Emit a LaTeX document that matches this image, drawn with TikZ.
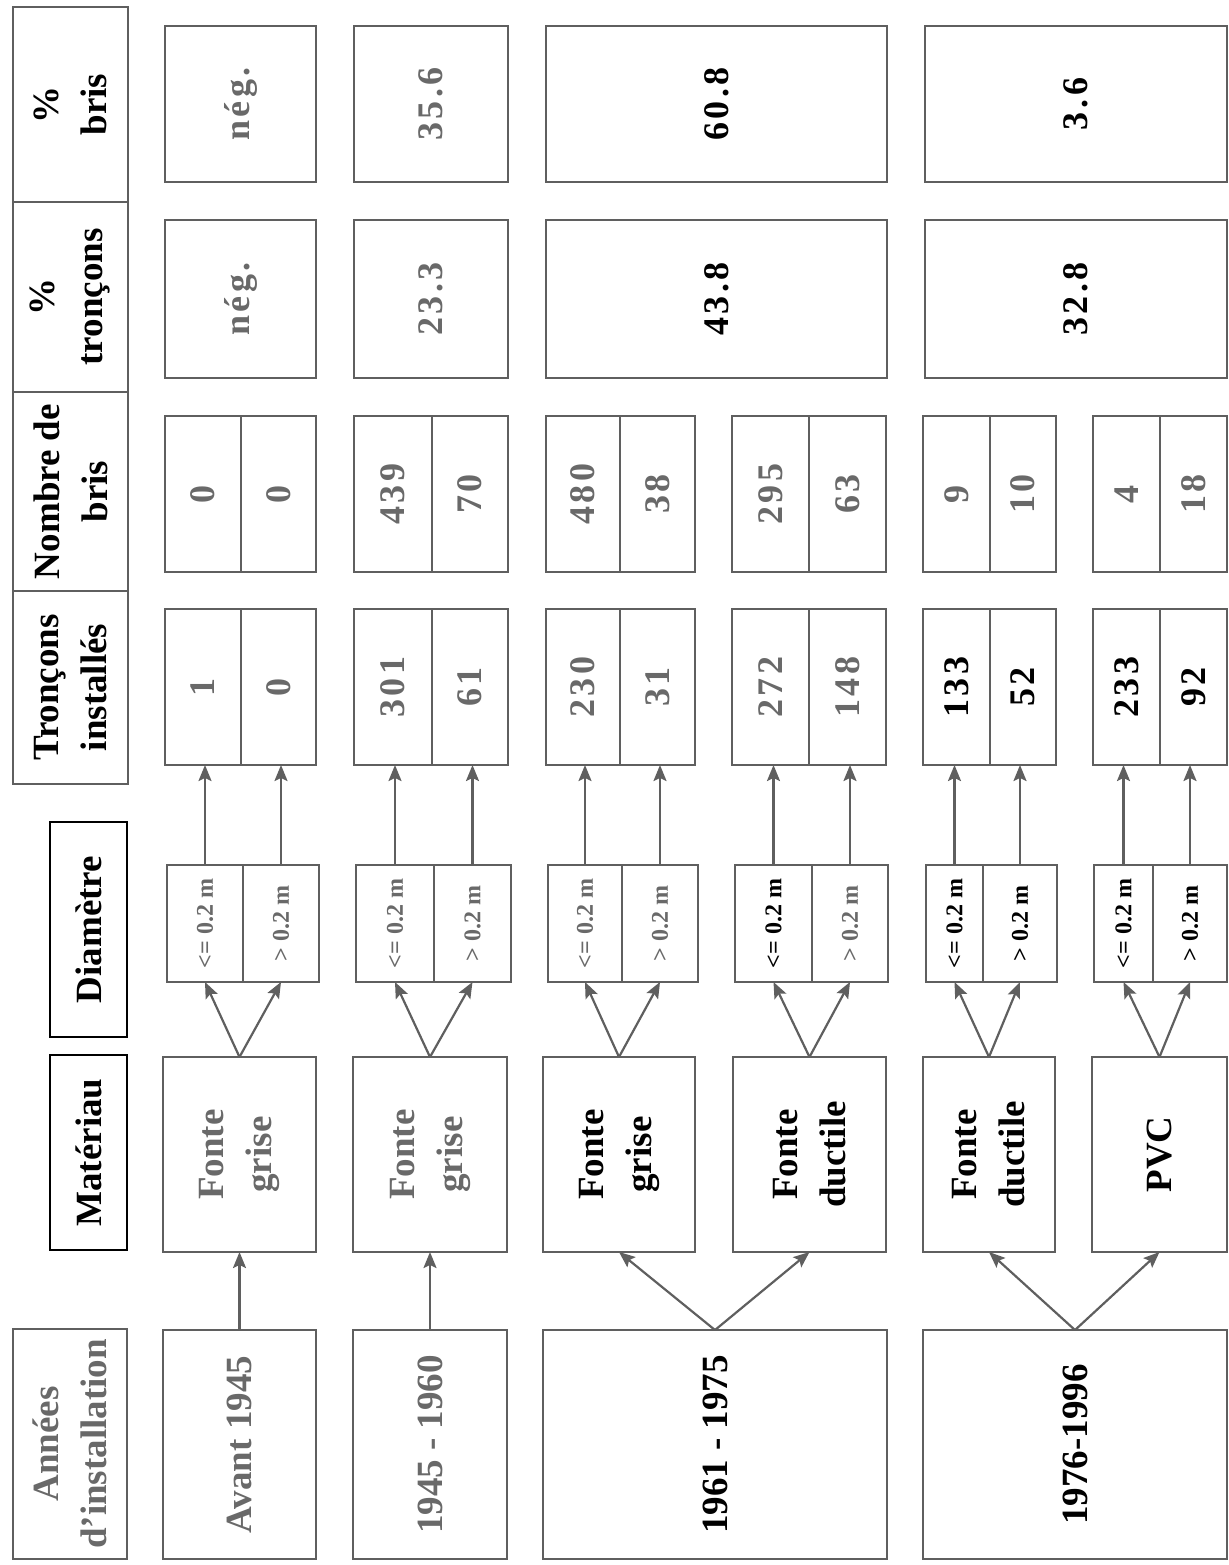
\documentclass[tikz,border=0pt]{standalone}
\usepackage{fontspec}
\setmainfont{Liberation Serif}
\newfontfamily\numfam{Liberation Serif}[LetterSpace=10]
\usetikzlibrary{arrows.meta}
\definecolor{ln}{RGB}{95,95,95}
\definecolor{gt}{RGB}{105,105,105}
\tikzset{
  bx/.style={draw=ln, line width=1.1pt, inner sep=0pt, outer sep=0pt, anchor=north west},
  hdr/.style={draw=black, line width=1.4pt},
  lab/.style={rotate=90, align=center, font=\bfseries\fontsize{18.5}{24}\selectfont, inner sep=0pt},
  num/.style={rotate=90, font=\numfam\bfseries\fontsize{18}{22}\selectfont, inner sep=0pt},
  dm/.style={rotate=90, font=\bfseries\fontsize{12}{14}\selectfont, inner sep=0pt},
  gr/.style={text=gt}, bk/.style={text=black},
  arr/.style={draw=ln, line width=1.1pt, -{Stealth[length=8pt,width=6.5pt,inset=1.5pt]}},
}
% name, x1, y1, x2, y2, box style, text style, text
\newcommand\tbox[8]{%
  \node[bx,#6, minimum width={(#4-#2)*0.5pt}, minimum height={(#5-#3)*0.5pt}] (#1) at (#2,#3) {};
  \node[#7] (#1t) at (#1.center) {#8};}
\begin{document}
\begin{tikzpicture}[x=0.5pt,y=-0.5pt]
\useasboundingbox (0,0) rectangle (1229,1565);
% header column
\tbox{hb}{13}{7}{128}{202}{}{lab}{\%\\bris}
\tbox{ht}{13}{202}{128}{392}{}{lab}{\%\\tronçons}
\tbox{hn}{13}{392}{128}{591}{}{lab}{Nombre de\\bris}
\tbox{hi}{13}{591}{128}{784}{}{lab}{Tronçons\\installés}
\tbox{hd}{50}{822}{127}{1037}{hdr}{lab}{Diamètre}
\tbox{hm}{50}{1055}{127}{1250}{hdr}{lab}{Matériau}
\tbox{ha}{13}{1329}{127}{1559}{}{lab,gr}{Années\\d\symbol{39}installation}
% row 1 : avant 1945
\tbox{pb1}{165}{26}{316}{182}{}{num,gr}{nég.}
\tbox{pt1}{165}{220}{316}{378}{}{num,gr}{nég.}
\tbox{n1a}{165}{416}{241}{572}{}{num,gr}{0}
\tbox{n1b}{241}{416}{316}{572}{}{num,gr}{0}
\tbox{i1a}{165}{609}{241}{765}{}{num,gr}{1}
\tbox{i1b}{241}{609}{316}{765}{}{num,gr}{0}
\tbox{d1a}{167}{865}{243}{982}{}{dm,gr}{<= 0.2 m}
\tbox{d1b}{243}{865}{319}{982}{}{dm,gr}{> 0.2 m}
\tbox{m1}{163}{1057}{316}{1252}{}{lab,gr}{Fonte\\grise}
\tbox{a1}{163}{1330}{316}{1559}{}{lab,gr}{Avant 1945}
% row 2 : 1945 - 1960
\tbox{pb2}{354}{26}{508}{182}{}{num,gr}{35.6}
\tbox{pt2}{354}{220}{508}{378}{}{num,gr}{23.3}
\tbox{n2a}{354}{416}{432}{572}{}{num,gr}{439}
\tbox{n2b}{432}{416}{508}{572}{}{num,gr}{70}
\tbox{i2a}{354}{609}{432}{765}{}{num,gr}{301}
\tbox{i2b}{432}{609}{508}{765}{}{num,gr}{61}
\tbox{d2a}{356}{865}{434}{982}{}{dm,gr}{<= 0.2 m}
\tbox{d2b}{434}{865}{511}{982}{}{dm,gr}{> 0.2 m}
\tbox{m2}{353}{1057}{507}{1252}{}{lab,gr}{Fonte\\grise}
\tbox{a2}{353}{1330}{507}{1559}{}{lab,gr}{1945 - 1960}
% row 3 : 1961 - 1975
\tbox{pb3}{546}{26}{887}{182}{}{num,bk}{60.8}
\tbox{pt3}{546}{220}{887}{378}{}{num,bk}{43.8}
\tbox{n3a}{546}{416}{620}{572}{}{num,gr}{480}
\tbox{n3b}{620}{416}{695}{572}{}{num,gr}{38}
\tbox{i3a}{546}{609}{620}{765}{}{num,gr}{230}
\tbox{i3b}{620}{609}{695}{765}{}{num,gr}{31}
\tbox{d3a}{548}{865}{622}{982}{}{dm,gr}{<= 0.2 m}
\tbox{d3b}{622}{865}{698}{982}{}{dm,gr}{> 0.2 m}
\tbox{m3}{543}{1057}{695}{1252}{}{lab,bk}{Fonte\\grise}
\tbox{n4a}{732}{416}{809}{572}{}{num,gr}{295}
\tbox{n4b}{809}{416}{886}{572}{}{num,gr}{63}
\tbox{i4a}{732}{609}{809}{765}{}{num,gr}{272}
\tbox{i4b}{809}{609}{886}{765}{}{num,gr}{148}
\tbox{d4a}{735}{865}{812}{982}{}{dm,bk}{<= 0.2 m}
\tbox{d4b}{812}{865}{888}{982}{}{dm,gr}{> 0.2 m}
\tbox{m4}{733}{1057}{886}{1252}{}{lab,bk}{Fonte\\ductile}
\tbox{a3}{543}{1330}{887}{1559}{}{lab,bk}{1961 - 1975}
% row 4 : 1976-1996
\tbox{pb4}{925}{26}{1227}{182}{}{num,bk}{3.6}
\tbox{pt4}{925}{220}{1227}{378}{}{num,bk}{32.8}
\tbox{n5a}{923}{416}{990}{572}{}{num,gr}{9}
\tbox{n5b}{990}{416}{1056}{572}{}{num,gr}{10}
\tbox{i5a}{923}{609}{990}{765}{}{num,bk}{133}
\tbox{i5b}{990}{609}{1056}{765}{}{num,bk}{52}
\tbox{d5a}{926}{865}{983}{982}{}{dm,bk}{<= 0.2 m}
\tbox{d5b}{983}{865}{1057}{982}{}{dm,bk}{> 0.2 m}
\tbox{m5}{923}{1057}{1055}{1252}{}{lab,bk}{Fonte\\ductile}
\tbox{n6a}{1093}{416}{1160}{572}{}{num,gr}{4}
\tbox{n6b}{1160}{416}{1227}{572}{}{num,gr}{18}
\tbox{i6a}{1093}{609}{1160}{765}{}{num,bk}{233}
\tbox{i6b}{1160}{609}{1227}{765}{}{num,bk}{92}
\tbox{d6a}{1094}{865}{1153}{982}{}{dm,bk}{<= 0.2 m}
\tbox{d6b}{1153}{865}{1227}{982}{}{dm,bk}{> 0.2 m}
\tbox{m6}{1092}{1057}{1227}{1252}{}{lab,bk}{PVC}
\tbox{a4}{923}{1330}{1227}{1559}{}{lab,bk}{1976-1996}
% diameter -> installed sections
\foreach \r in {1,2,3,4,5,6}{
  \draw[arr] (d\r a.north) -- (d\r a.north |- i\r a.south);
  \draw[arr] (d\r b.north) -- (d\r b.north |- i\r b.south);
}
% material -> diameter
\foreach \r in {1,2,3,4,5,6}{
  \draw[arr] (m\r.north) -- (d\r a.south);
  \draw[arr] (m\r.north) -- (d\r b.south);
}
% years -> material
\draw[arr] (a1.north) -- (m1.south);
\draw[arr] (a2.north) -- (m2.south);
\draw[arr] (a3.north) -- (m3.south);
\draw[arr] (a3.north) -- (m4.south);
\draw[arr] (a4.north) -- (m5.south);
\draw[arr] (a4.north) -- (m6.south);
\end{tikzpicture}
\end{document}
